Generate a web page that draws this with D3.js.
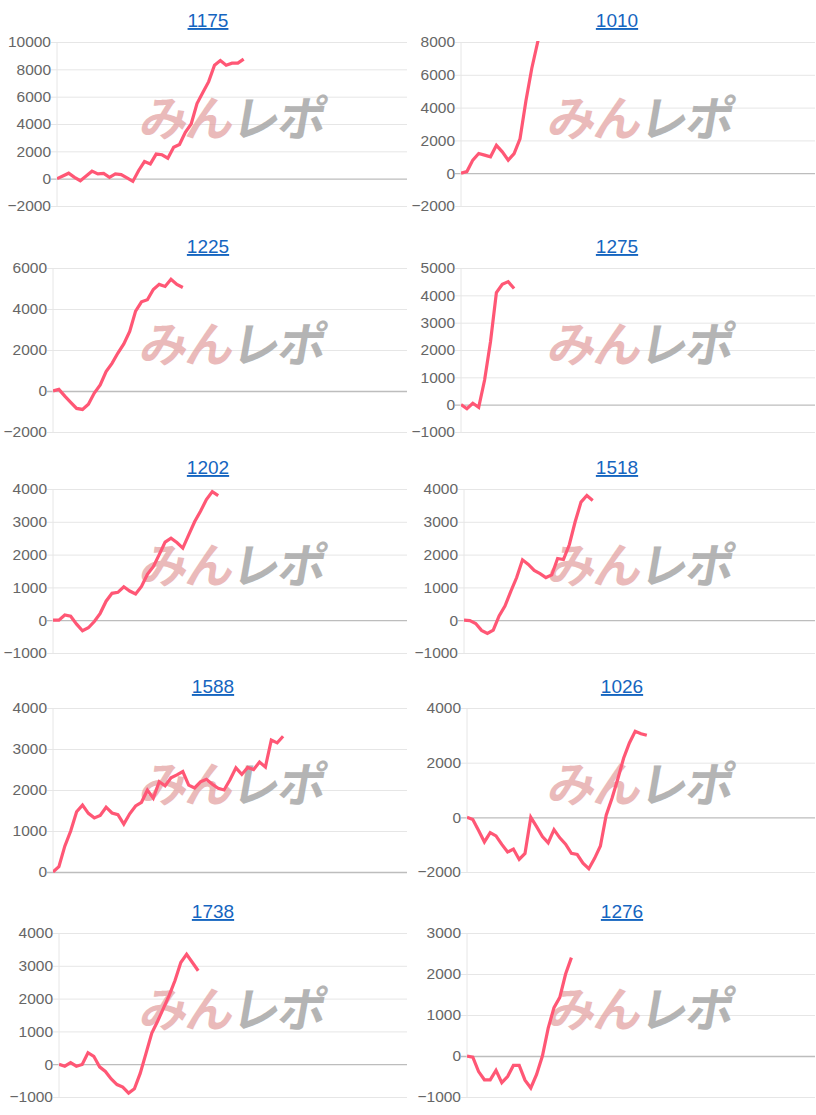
<!DOCTYPE html>
<html>
<head>
<meta charset="utf-8">
<script src="https://cdn.jsdelivr.net/npm/d3@7"></script>
<style>
  body { margin: 0; background: #fff; }
  svg { display: block; font-family: "Liberation Sans", Arial, sans-serif; }
</style>
</head>
<body>
<svg id="chart" width="816" height="1115"></svg>
<script>
// Machine numbers (titles), in reading order
var titles = ["1175", "1010", "1225", "1275", "1202", "1518", "1588", "1026", "1738", "1276"];

// Y axis range and tick step per chart
var yMins  = [-2000, -2000, -2000, -1000, -1000, -1000, 0, -2000, -1000, -1000];
var yMaxs  = [10000, 8000, 6000, 5000, 4000, 4000, 4000, 4000, 4000, 3000];
var ySteps = [2000, 2000, 2000, 1000, 1000, 1000, 1000, 2000, 1000, 1000];

// number of sample slots along x (same for every chart)
var xSlots = 60;

// balance series, one sample per slot
var s1175 = [0,200,400,100,-150,200,550,350,380,100,350,300,50,-200,600,1250,1080,1800,1750,1500,2300,2500,3400,4000,5500,6300,7100,8300,8650,8300,8450,8450,8750];
var s1010 = [0,100,800,1200,1100,1000,1700,1300,800,1200,2100,4400,6400,8000,9500];
var s1225 = [0,80,-250,-550,-850,-900,-650,-100,300,950,1350,1850,2300,2900,3900,4350,4450,4950,5200,5100,5450,5200,5050];
var s1275 = [0,-150,50,-100,900,2300,4100,4400,4500,4250];
var s1202 = [0,0,160,120,-120,-320,-230,-40,210,580,820,850,1020,890,800,1030,1400,1630,2000,2380,2500,2370,2200,2600,3000,3320,3680,3920,3800];
var s1518 = [0,-10,-100,-310,-400,-300,130,430,880,1300,1840,1700,1520,1420,1300,1380,1880,1850,2300,3000,3600,3800,3650];
var s1588 = [0,130,630,1000,1470,1630,1430,1320,1380,1580,1440,1400,1170,1420,1610,1700,2000,1800,2200,2100,2300,2370,2450,2120,2050,2200,2260,2140,2040,2000,2250,2540,2380,2550,2500,2680,2560,3220,3150,3310];
var s1026 = [0,-80,-480,-900,-560,-680,-990,-1270,-1160,-1540,-1320,0,-340,-700,-930,-450,-750,-980,-1320,-1360,-1680,-1880,-1500,-1050,80,700,1400,2160,2720,3150,3060,3000];
var s1738 = [0,-60,50,-60,-10,350,240,-80,-220,-450,-620,-700,-880,-750,-280,330,950,1310,1700,2100,2550,3100,3350,3100,2850];
var s1276 = [0,-30,-380,-580,-580,-350,-650,-500,-230,-230,-590,-780,-450,0,680,1180,1430,2000,2400];

var seriesList = [s1175, s1010, s1225, s1275, s1202, s1518, s1588, s1026, s1738, s1276];

// layout
var rowTops = [42, 268, 489, 708, 933];
var plotH = 164;
var colX = [0, 408];
var colRight = [407, 815];
var titleX = [208, 617];
var axisOffset = [57, 53, 53, 53, 53, 56, 53, 59, 59, 59];

var svg = d3.select("#chart");
var defs = svg.append("defs");

titles.forEach(function(title, i) {
  var row = Math.floor(i / 2), col = i % 2;
  var left = colX[col] + axisOffset[i];
  var right = colRight[col];
  var top = rowTops[row];
  var bottom = top + plotH;

  var x = d3.scaleLinear().domain([0, xSlots]).range([left, right]);
  var y = d3.scaleLinear().domain([yMins[i], yMaxs[i]]).range([bottom, top]);
  var ticks = d3.range(yMins[i], yMaxs[i] + 1, ySteps[i]);

  var g = svg.append("g");

  // title
  g.append("text")
    .attr("x", titleX[col] + (row === 3 || row === 4 ? 5 : 0))
    .attr("y", top - 15)
    .attr("text-anchor", "middle")
    .attr("font-size", "19px")
    .attr("fill", "#1565c0")
    .attr("text-decoration", "underline")
    .text(title);

  // grid + y axis
  var yAxis = d3.axisLeft(y).tickValues(ticks).tickSize(-(right - left)).tickPadding(6).tickFormat(d3.format("d"));
  var ax = g.append("g").attr("transform", "translate(" + left + ",0)").call(yAxis);
  ax.select(".domain").remove();
  ax.selectAll(".tick line")
    .attr("stroke", function(d) { return d === 0 ? "#bdbdbd" : "#e6e6e6"; })
    .attr("stroke-width", function(d) { return d === 0 ? 1.3 : 1; })
    .attr("x1", -6);
  ax.selectAll(".tick text").attr("font-size", "15.5px").attr("fill", "#666")
    .attr("font-family", "Liberation Sans, Arial, sans-serif");
  g.append("line").attr("x1", left).attr("x2", left).attr("y1", top).attr("y2", bottom)
    .attr("stroke", "#e6e6e6");

  // watermark
  var wy = top + 94;
  var wm = g.append("text")
    .attr("x", colX[col] + 230 + wy * Math.tan(10 * Math.PI / 180))
    .attr("y", wy)
    .attr("text-anchor", "middle")
    .attr("font-size", "48px")
    .attr("font-weight", "bold")
    .attr("font-family", "Noto Sans CJK JP, sans-serif")
    .attr("letter-spacing", "-2")
    .attr("transform", "skewX(-10)");
  wm.append("tspan").attr("fill", "#e3a3a3").attr("opacity", 0.75).text("みん");
  wm.append("tspan").attr("fill", "#a8a8a8").attr("opacity", 0.85).text("レポ");

  // clip
  var cid = "clip" + i;
  defs.append("clipPath").attr("id", cid).append("rect")
    .attr("x", left).attr("y", top - 1).attr("width", right - left).attr("height", plotH + 2);

  var line = d3.line().x(function(d, k) { return x(k); }).y(function(d) { return y(d); });
  g.append("path")
    .datum(seriesList[i])
    .attr("clip-path", "url(#" + cid + ")")
    .attr("d", line)
    .attr("fill", "none")
    .attr("stroke", "#ff5775")
    .attr("stroke-width", 3.2)
    .attr("stroke-linejoin", "miter");
});
</script>
</body>
</html>
